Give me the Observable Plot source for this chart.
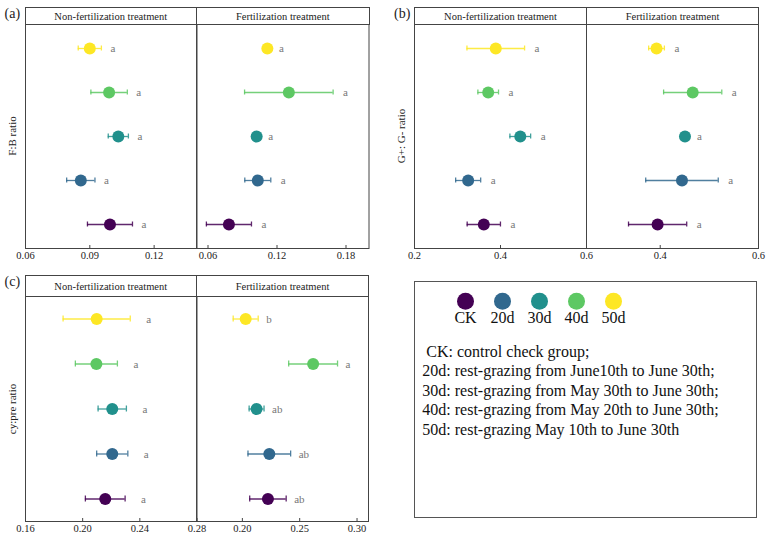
<!DOCTYPE html>
<html>
<head>
<meta charset="utf-8">
<script src="https://cdn.jsdelivr.net/npm/d3@7"></script>
<script src="https://cdn.jsdelivr.net/npm/@observablehq/plot@0.6"></script>
<style>
  html, body { margin: 0; padding: 0; background: #fff; }
  #fig { position: relative; width: 767px; height: 536px; font-family: "Liberation Serif", "Times New Roman", serif; color: #222; overflow: hidden; }
  .strip { position: absolute; box-sizing: border-box; border: 1px solid #444; background: #fff;
           display: flex; align-items: center; justify-content: center; font-size: 10.5px; color: #222; }
  .tag { position: absolute; font-size: 14px; line-height: 1; }
  .ytitle { position: absolute; font-size: 11px; white-space: nowrap; transform: translate(-50%, -50%) rotate(-90deg); }
  .legendbox { position: absolute; box-sizing: border-box; border: 1.5px solid #555; }
  .notes { position: absolute; font-size: 16px; line-height: 19.5px; white-space: pre; color: #111; }
</style>
</head>
<body>
<div id="fig"></div>
<script>
// Grazing-rest groups and their colours
const groups = ["CK", "20d", "30d", "40d", "50d"];
const groupColors = ["#440154", "#31688E", "#21908C", "#5DC863", "#FDE725"];
const rowOrder = ["50d", "40d", "30d", "20d", "CK"];

// F:B ratio (mean, SE, significance letters)
const fbNonFertMean = [0.0994, 0.0858, 0.1033, 0.0990, 0.0900];
const fbNonFertSE   = [0.0105, 0.0066, 0.0047, 0.0085, 0.0054];
const fbNonFertSig  = ["a", "a", "a", "a", "a"];
const fbFertMean    = [0.0782, 0.1033, 0.1023, 0.1303, 0.1116];
const fbFertSE      = [0.0196, 0.0113, 0.0015, 0.0385, 0.0015];
const fbFertSig     = ["a", "a", "a", "a", "a"];

// G+:G- ratio
const ggNonFertMean = [0.3612, 0.3248, 0.4460, 0.3714, 0.3890];
const ggNonFertSE   = [0.0387, 0.0291, 0.0241, 0.0240, 0.0670];
const ggNonFertSig  = ["a", "a", "a", "a", "a"];
const ggFertMean    = [0.3947, 0.4443, 0.4504, 0.4661, 0.3925];
const ggFertSE      = [0.0592, 0.0738, 0.0040, 0.0592, 0.0160];
const ggFertSig     = ["a", "a", "a", "a", "a"];

// cy:pre ratio
const cpNonFertMean = [0.2158, 0.2207, 0.2207, 0.2096, 0.2098];
const cpNonFertSE   = [0.0139, 0.0109, 0.0099, 0.0147, 0.0235];
const cpNonFertSig  = ["a", "a", "a", "a", "a"];
const cpFertMean    = [0.2223, 0.2235, 0.2124, 0.2617, 0.2029];
const cpFertSE      = [0.0159, 0.0186, 0.0065, 0.0213, 0.0109];
const cpFertSig     = ["ab", "ab", "ab", "a", "b"];

// Legend notes
const legendNotes = [
  " CK: control check group;",
  "20d: rest-grazing from June10th to June 30th;",
  "30d: rest-grazing from May 30th to June 30th;",
  "40d: rest-grazing from May 20th to June 30th;",
  "50d: rest-grazing May 10th to June 30th"
];

const fig = document.getElementById("fig");

function rows(mean, se, sig) {
  return groups.map((g, i) => ({
    group: g, color: groupColors[i], mean: mean[i],
    lo: mean[i] - se[i], hi: mean[i] + se[i], sig: sig[i]
  }));
}

function place(el, left, top) {
  el.style.position = "absolute";
  el.style.left = left + "px";
  el.style.top = top + "px";
  fig.appendChild(el);
  return el;
}

function addDiv(cls, text, css) {
  const d = document.createElement("div");
  d.className = cls;
  d.textContent = text;
  Object.assign(d.style, css);
  fig.appendChild(d);
  return d;
}

// One facet: dot + SE bar per group, significance letters, inward ticks
function facet({data, left, right, top, bottom, domain, ticks, format, dx}) {
  const w = right - left, h = bottom - top;
  const plot = Plot.plot({
    width: w, height: h + 22,
    marginTop: 0, marginBottom: 22, marginLeft: 0, marginRight: 0,
    style: {background: "transparent", overflow: "visible", fontFamily: "Liberation Serif", fontSize: "10.5px", color: "#222"},
    x: {domain, ticks, tickSize: 0, tickPadding: 3, tickFormat: d3.format(format), label: null},
    y: {type: "band", domain: rowOrder, padding: 0, axis: null},
    marks: [
      Plot.ruleX(ticks, {insetTop: h - 3, stroke: "#444"}),
      Plot.ruleY(data, {y: "group", x1: "lo", x2: "hi", stroke: "color", strokeWidth: 1.3, strokeOpacity: 0.85}),
      Plot.tickX(data, {x: "lo", y: "group", stroke: "color", strokeWidth: 1.3, strokeOpacity: 0.85, insetTop: 19.5, insetBottom: 19.5}),
      Plot.tickX(data, {x: "hi", y: "group", stroke: "color", strokeWidth: 1.3, strokeOpacity: 0.85, insetTop: 19.5, insetBottom: 19.5}),
      Plot.dot(data, {x: "mean", y: "group", r: 6, fill: "color"}),
      Plot.text(data, {x: "hi", y: "group", text: "sig", dx, textAnchor: "start", fill: "#777", fontSize: 11}),
      Plot.frame({stroke: "#444"})
    ]
  });
  place(plot, left, top);
}

function strip(text, left, right, top, bottom) {
  const d = addDiv("strip", text, {left: left + "px", top: top + "px", width: (right - left + 1) + "px", height: (bottom - top + 1) + "px"});
  return d;
}

function panel(cfg) {
  const {tag, title, left, mid, right, stripTop, top, bottom, titleX, L, R} = cfg;
  facet({data: L.data, left, right: mid, top, bottom, domain: L.domain, ticks: L.ticks, format: L.format, dx: L.dx});
  facet({data: R.data, left: mid, right, top, bottom, domain: R.domain, ticks: R.ticks, format: R.format, dx: R.dx});
  strip("Non-fertilization treatment", left, mid, stripTop, top);
  strip("Fertilization treatment", mid, right, stripTop, top);
  addDiv("tag", tag, {left: (left - 20) + "px", top: (stripTop) + "px"});
  addDiv("ytitle", title, {left: titleX + "px", top: ((top + bottom) / 2) + "px"});
}

panel({
  tag: "(a)", title: "F:B ratio", left: 24.5, mid: 196, right: 368.5, stripTop: 7, top: 24, bottom: 248, titleX: 12,
  L: {data: rows(fbNonFertMean, fbNonFertSE, fbNonFertSig), domain: [0.06, 0.14], ticks: [0.06, 0.09, 0.12], format: ".2f", dx: 9},
  R: {data: rows(fbFertMean, fbFertSE, fbFertSig), domain: [0.05, 0.20], ticks: [0.06, 0.12, 0.18], format: ".2f", dx: 10}
});

panel({
  tag: "(b)", title: "G+: G- ratio", left: 414, mid: 586, right: 758, stripTop: 7, top: 24, bottom: 248, titleX: 401,
  L: {data: rows(ggNonFertMean, ggNonFertSE, ggNonFertSig), domain: [0.2, 0.6], ticks: [0.2, 0.4, 0.6], format: ".1f", dx: 10},
  R: {data: rows(ggFertMean, ggFertSE, ggFertSig), domain: [0.25, 0.6], ticks: [0.4, 0.6], format: ".1f", dx: 10}
});

panel({
  tag: "(c)", title: "cy:pre ratio", left: 24.5, mid: 196, right: 368, stripTop: 275, top: 296, bottom: 521, titleX: 12,
  L: {data: rows(cpNonFertMean, cpNonFertSE, cpNonFertSig), domain: [0.16, 0.28], ticks: [0.16, 0.20, 0.24, 0.28], format: ".2f", dx: 16},
  R: {data: rows(cpFertMean, cpFertSE, cpFertSig), domain: [0.16, 0.31], ticks: [0.20, 0.25, 0.30], format: ".2f", dx: 8}
});

// Legend box with colour key and group descriptions
const box = {left: 414, top: 281, width: 343, height: 237};
addDiv("legendbox", "", {left: box.left + "px", top: box.top + "px", width: box.width + "px", height: box.height + "px"});

const legendPlot = Plot.plot({
  width: box.width, height: 50,
  margin: 0,
  style: {background: "transparent", overflow: "visible", fontFamily: "Liberation Serif", fontSize: "16px", color: "#111"},
  x: {type: "point", domain: groups, range: [30.3, 219.3], axis: null},
  marks: [
    Plot.dot(groups, {x: d => d, frameAnchor: "top", dy: 19.7, r: 8.5, fill: (d, i) => groupColors[i]}),
    Plot.text(groups, {x: d => d, frameAnchor: "top", dy: 41, text: d => d, lineAnchor: "bottom", fill: "#111"})
  ]
});
place(legendPlot, box.left, box.top);

addDiv("notes", legendNotes.join("\n"), {left: "422.3px", top: "341.5px"});
</script>
</body>
</html>
